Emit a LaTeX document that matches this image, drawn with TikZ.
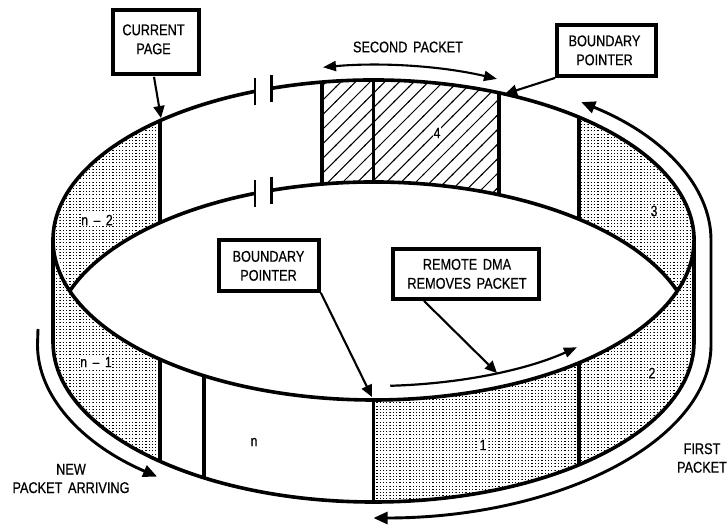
\documentclass[tikz,border=0pt]{standalone}
\usepackage{fontspec}
\setmainfont[FakeStretch=0.82,WordSpace=1.6,FakeBold=0.5]{Liberation Sans}
\usetikzlibrary{patterns,arrows.meta}
\pgfdeclarepatternformonly{pktdots}{\pgfqpoint{-0.1pt}{-0.1pt}}{\pgfqpoint{3.4pt}{3.3pt}}{\pgfqpoint{3.3pt}{3.2pt}}{%
  \pgfpathrectangle{\pgfqpoint{0pt}{0pt}}{\pgfqpoint{1.3pt}{1.0pt}}\pgfusepath{fill}}
\pgfdeclarepatternformonly{pkthatch}{\pgfqpoint{-1pt}{-1pt}}{\pgfqpoint{15.6pt}{15.6pt}}{\pgfqpoint{14.6pt}{14.6pt}}{%
  \pgfsetlinewidth{1.0pt}\pgfpathmoveto{\pgfqpoint{-1pt}{-1pt}}\pgfpathlineto{\pgfqpoint{15.6pt}{15.6pt}}\pgfusepath{stroke}}
\tikzset{
  rim/.style={x radius=320.5,y radius=160},
  wall/.style={line width=3.6pt,line join=round},
  gap/.style={line width=2.8pt},
  msgbox/.style={draw,line width=3.8pt,inner sep=0pt,font=\fontsize{15.5}{19}\selectfont},
  caption/.style={inner sep=0pt,align=center,font=\fontsize{15.5}{18.5}\selectfont},
  num/.style={fill=white,inner sep=0.5pt,font=\fontsize{15}{16}\selectfont},
  pointer/.style={line width=2.1pt,-{Triangle[length=12pt,width=11pt]}},
  flow/.style={line width=2.9pt,-{Triangle[length=14pt,width=12pt]}},
  flowdouble/.style={line width=2.9pt,{Triangle[length=14pt,width=12pt]}-{Triangle[length=14pt,width=12pt]}},
  flowthin/.style={line width=2.2pt,-{Triangle[length=13pt,width=10pt]}},
  flowboth/.style={line width=2.1pt,{Triangle[length=13pt,width=10pt]}-{Triangle[length=13pt,width=10pt]}},
  dotarea/.style={pattern=pktdots},
  hatcharea/.style={pattern=pkthatch},
}
\newcommand{\rp}[3]{\coordinate (#1) at ([shift={(#3:320.5 and 160)}]373.5,#2);}
\newcommand{\bt}[3]{\raisebox{#2}[0pt][0pt]{\makebox[0pt]{\hspace*{#1}\begin{tabular}{@{}c@{}}#3\end{tabular}}}}
\begin{document}
\begin{tikzpicture}[x=1pt,y=-1pt]
\useasboundingbox (0,0) rectangle (728,525);
% rim points
\rp{tL}{240}{180}\rp{tR}{240}{0}
\rp{bL}{342}{180}\rp{bR}{342}{0}
\rp{ta}{240}{-131.8}\rp{tb}{240}{-111.7}\rp{tc}{240}{-108.5}\rp{td}{240}{-99.25}
\rp{te}{240}{-90}\rp{tf}{240}{-66.95}\rp{tg}{240}{-50.1}
\rp{ba}{342}{-131.8}\rp{bb}{342}{-111.7}\rp{bc}{342}{-108.5}\rp{bd}{342}{-99.25}
\rp{be}{342}{-90}\rp{bf}{342}{-66.95}\rp{bg}{342}{-50.1}
\rp{bl}{342}{-161.4}\rp{br}{342}{-18.6}
\rp{fa}{240}{131.8}\rp{fb}{240}{121.9}\rp{fe}{240}{90}\rp{fg}{240}{50.1}
\rp{ga}{342}{131.8}\rp{gb}{342}{121.9}\rp{ge}{342}{90}\rp{gg}{342}{50.1}
% shaded panels
\fill[dotarea] (tL) arc[rim,start angle=-180,end angle=-131.8] -- (ba) arc[rim,start angle=-131.8,end angle=-161.4] -- cycle;
\fill[dotarea] (tg) arc[rim,start angle=-50.1,end angle=0] arc[rim,start angle=0,end angle=18.6] -- (br) arc[rim,start angle=-18.6,end angle=-50.1] -- cycle;
\fill[dotarea] (tL) arc[rim,start angle=180,end angle=131.8] -- (ga) arc[rim,start angle=131.8,end angle=180] -- cycle;
\fill[dotarea] (fe) arc[rim,start angle=90,end angle=0] -- (bR) arc[rim,start angle=0,end angle=90] -- cycle;
\fill[hatcharea] (td) arc[rim,start angle=-99.25,end angle=-66.95] -- (bf) arc[rim,start angle=-66.95,end angle=-99.25] -- cycle;
% ring outline
\draw[wall] (tL) arc[rim,start angle=-180,end angle=-111.7];
\draw[wall] (tc) arc[rim,start angle=-108.5,end angle=180];
\draw[wall] (bl) arc[rim,start angle=-161.4,end angle=-111.7];
\draw[wall] (bc) arc[rim,start angle=-108.5,end angle=-18.6];
\draw[wall] (bL) arc[rim,start angle=180,end angle=0];
\draw[wall] (tL) -- (bL);
\draw[wall] (tR) -- (bR);
% gap bars
\foreach \p in {tb,tc,bb,bc}
  \draw[gap] ([yshift=13.5pt]\p) -- ([yshift=-13.5pt]\p);
% panel dividers
\draw[wall] (ta) -- (ba);
\draw[wall] (td) -- (bd);
\draw[wall] (te) -- (be);
\draw[wall] (tf) -- (bf);
\draw[wall] (tg) -- (bg);
\draw[wall] (fa) -- (ga);
\draw[wall] (fb) -- (gb);
\draw[wall] (fe) -- (ge);
\draw[wall] (fg) -- (gg);
% boxes
\node[msgbox,minimum width=86pt,minimum height=64pt] (curbox) at (156,42) {\bt{-5pt}{-2.5pt}{CURRENT\\PAGE}};
\node[msgbox,minimum width=99pt,minimum height=51pt] (bptop) at (606.5,50.5) {\bt{-4pt}{-5pt}{BOUNDARY\\POINTER}};
\node[msgbox,minimum width=100pt,minimum height=51pt] (bpmid) at (269,265.5) {\bt{-1pt}{-5.5pt}{BOUNDARY\\POINTER}};
\node[msgbox,minimum width=146pt,minimum height=50pt] (dmabox) at (466,274) {\bt{2pt}{-5pt}{REMOTE DMA\\REMOVES PACKET}};
% pointers
\coordinate (curtip) at (161,118);
\coordinate (toptip) at (505,94);
\coordinate (midtip) at (372,397);
\coordinate (dmatip) at (497,373);
\draw[pointer] ([xshift=-2pt,yshift=-1pt]curbox.south) -- (curtip);
\draw[pointer] (bptop.south west) -- (toptip);
\draw[pointer] (bpmid.south east) -- (midtip);
\draw[pointer] ([xshift=-42pt]dmabox.south) -- (dmatip);
% flow arrows
\coordinate (secS) at ([shift={(-99.2:316 and 175)}]373.5,240);
\draw[flowboth] (secS) arc[x radius=316,y radius=175,start angle=-99.2,end angle=-67];
\coordinate (firS) at ([shift={(-52:337.5 and 175)}]373.5,240);
\coordinate (firM) at (711,345);
\draw[flowdouble] (firS) arc[x radius=337.5,y radius=175,start angle=-52,end angle=0] -- (firM) arc[x radius=337.5,y radius=173,start angle=0,end angle=90];
\coordinate (newS) at (38,329);
\coordinate (newM) at (37.5,345);
\draw[flow] (newS) -- (newM) arc[x radius=336,y radius=172,start angle=180,end angle=130.1];
\coordinate (remS) at ([shift={(86.8:300 and 146)}]373.5,240);
\draw[flowthin] (remS) arc[x radius=300,y radius=146,start angle=86.8,end angle=47.3];
% captions
\node[caption] (secondcap) at (408,47) {SECOND PACKET};
\node[caption] (newcap) at (71,478.5) {NEW\\PACKET ARRIVING};
\node[caption] (firstcap) at (702,458) {FIRST\\PACKET};
% panel numbers
\node[num] (nmtwo) at (97,220) {n -- 2};
\node[num] (nmone) at (96,362) {n -- 1};
\node[num] (nn) at (254,442) {n};
\node[num] (n1) at (483,445) {1};
\node[num] (n2) at (652,373) {2};
\node[num] (n3) at (654,211) {3};
\node[num] (n4) at (437,133) {4};
\end{tikzpicture}
\end{document}
